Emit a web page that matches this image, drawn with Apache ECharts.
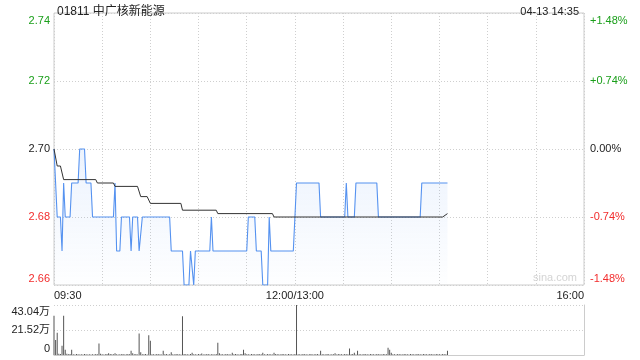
<!DOCTYPE html>
<html>
<head>
<meta charset="utf-8">
<script src="https://cdn.jsdelivr.net/npm/echarts@6/dist/echarts.min.js"></script>
<style>html,body{margin:0;padding:0;background:#fff}#c{width:640px;height:360px}</style>
</head>
<body>
<div id="c"></div>
<script>
// ---- data ----
const titleText = '01811 中广核新能源';
const timeText = '04-13 14:35';
const prevClose = 2.70;
const xTickMinutes = [0, 150, 330];
const xTickLabels = ['09:30', '12:00/13:00', '16:00'];
const leftLabels = ['2.66', '2.68', '2.70', '2.72', '2.74'];
const rightLabels = ['-1.48%', '-0.74%', '0.00%', '+0.74%', '+1.48%'];
const volLabels = ['0', '21.52万', '43.04万'];

const priceT = [0,2,4,5,6,7,10,11,15,16,19,20,23,24,37,38,39,41,42,47,48,49,52,53,54,55,72,73,80,81,84,85,86,87,88,97,98,99,120,121,125,126,129,130,133,134,135,149,151,165,166,181,182,183,187,188,201,202,228,229,245];
const priceV = [2.70,2.68,2.68,2.67,2.69,2.68,2.68,2.69,2.69,2.70,2.70,2.69,2.69,2.68,2.68,2.69,2.67,2.67,2.68,2.68,2.67,2.68,2.68,2.67,2.67,2.68,2.68,2.67,2.67,2.66,2.66,2.67,2.67,2.66,2.67,2.67,2.68,2.67,2.67,2.68,2.68,2.67,2.67,2.66,2.66,2.68,2.67,2.67,2.69,2.69,2.68,2.68,2.69,2.68,2.68,2.69,2.69,2.68,2.68,2.69,2.69];

const avgT = [0,2,4,6,26,27,37,38,52,54,58,60,79,80,101,102,136,137,242,245];
const avgV = [2.700,2.695,2.695,2.691,2.691,2.690,2.690,2.689,2.689,2.686,2.686,2.684,2.684,2.682,2.682,2.681,2.681,2.680,2.680,2.681];

// volume per minute (万), minute 0 .. 245
const volume = [
33.8,12.9,19.2,1.0,0.8,8.0,33.8,4.6,1.0,0.6,
0.8,4.6,0.7,0.5,0.9,0.6,0.4,0.7,0.5,0.8,
0.6,0.5,0.7,0.4,0.6,0.5,0.8,0.6,10.0,1.0,
0.7,0.5,0.6,0.9,1.5,0.8,0.6,0.7,1.5,0.6,
0.5,0.7,0.6,0.8,0.5,0.6,0.9,0.7,3.7,1.5,
0.6,0.8,0.5,18.4,2.3,0.7,0.6,0.8,0.5,16.9,
12.3,0.7,0.6,0.5,0.8,0.6,0.7,0.5,3.7,0.6,
0.8,0.5,0.7,2.3,0.6,0.5,0.8,0.6,0.7,0.5,
33.3,0.8,0.6,0.7,0.5,0.9,2.0,0.6,0.7,0.5,
0.8,0.6,1.2,0.5,0.7,0.6,0.8,0.5,0.7,0.6,
0.5,0.8,10.6,1.5,0.6,0.7,0.5,0.8,0.6,0.7,
0.5,2.0,0.6,0.8,0.7,0.5,0.6,0.8,4.6,1.5,
0.6,0.7,0.5,0.8,0.6,0.7,0.5,0.8,0.6,0.7,
2.0,0.6,0.5,0.8,0.7,0.6,0.5,2.0,0.8,0.6,
0.7,0.5,0.8,0.6,0.7,0.5,0.9,0.6,0.7,0.5,
0.8,43.04,0.6,0.7,0.5,0.8,0.6,0.7,0.5,0.6,
0.8,0.5,0.7,0.6,0.8,0.5,3.7,0.6,0.7,0.5,
0.8,0.6,0.5,0.7,0.6,1.5,0.5,0.8,0.6,0.7,
0.5,0.8,0.6,0.7,5.5,0.6,0.8,2.0,0.5,3.7,
0.6,0.7,0.5,0.8,0.6,0.7,0.5,0.8,0.6,0.7,
0.5,0.8,0.6,0.7,0.5,0.8,0.6,0.7,6.3,4.6,
2.0,0.6,0.7,0.5,0.8,0.6,0.7,0.5,0.8,0.6,
0.7,0.5,0.8,0.6,0.7,0.5,0.8,0.6,0.7,0.5,
0.8,0.6,0.7,0.5,0.8,0.6,0.7,0.5,0.8,0.6,
0.7,0.5,0.8,0.6,0.7,3.7
];

// ---- chart ----
const GREEN = '#1a9f1a', RED = '#f22c2c', BLACK = '#222';
const FONT = '"Liberation Sans", Arial, "Noto Sans CJK SC", sans-serif';
const chart = echarts.init(document.getElementById('c'), null, {renderer: 'canvas'});

function richSet() {
  return {
    g: {color: GREEN}, gT: {color: GREEN, padding: [16, 0, 0, 0]},
    k: {color: BLACK}, kT: {color: BLACK, padding: [16, 0, 0, 0]}, kB: {color: BLACK, padding: [0, 0, 12, 0]},
    r: {color: RED}, rB: {color: RED, padding: [0, 0, 12, 0]}
  };
}
function styleKey(idx, n, mid) {
  let c = idx > mid ? 'g' : (idx < mid ? 'r' : 'k');
  if (idx === n - 1) c += 'T';
  if (idx === 0) c += 'B';
  return c;
}

const priceData = priceT.map((t, i) => [t, priceV[i]]);
const avgData = avgT.map((t, i) => [t, avgV[i]]);
const volData = volume.map((v, i) => [i, v]);

const gridLine = {show: true, lineStyle: {color: '#cfcfcf', type: [1, 2], width: 1}};
const solidLine = {show: true, lineStyle: {color: '#cccccc', width: 1}};

chart.setOption({
  animation: false,
  textStyle: {fontFamily: FONT},
  title: [
    {text: titleText, left: 52, top: 1, textStyle: {fontSize: 12, fontWeight: 'normal', color: '#222', fontFamily: FONT}},
    {text: timeText, right: 56, top: 1, textStyle: {fontSize: 11, fontWeight: 'normal', color: '#222', fontFamily: FONT}}
  ],
  grid: [
    {left: 54, right: 56, top: 13, height: 272, show: true, borderColor: '#cccccc', borderWidth: 1, containLabel: false},
    {left: 54, right: 56, top: 305, height: 50, show: false, containLabel: false}
  ],
  xAxis: [
    {type: 'value', gridIndex: 0, min: 0, max: 330, interval: 30,
     axisLine: {show: false}, axisTick: {show: false}, splitLine: gridLine,
     axisLabel: {show: true, margin: 5, fontSize: 11, color: '#222', fontFamily: FONT,
       showMinLabel: true, showMaxLabel: true, alignMinLabel: 'left', alignMaxLabel: 'right',
       formatter: v => { const i = xTickMinutes.indexOf(Math.round(v)); return i >= 0 ? xTickLabels[i] : ''; }}},
    {type: 'value', gridIndex: 1, min: 0, max: 330, interval: 30,
     axisLine: solidLine, axisTick: {show: false}, splitLine: {show: false}, axisLabel: {show: false}}
  ],
  yAxis: [
    {type: 'value', gridIndex: 0, min: 2.66, max: 2.74, interval: 0.02, position: 'left',
     axisLine: {show: false}, axisTick: {show: false}, splitLine: gridLine,
     axisLabel: {margin: 4, fontSize: 11, fontFamily: FONT, rich: richSet(),
       formatter: (v, idx) => '{' + styleKey(idx, leftLabels.length, 2) + '|' + leftLabels[idx] + '}'}},
    {type: 'value', gridIndex: 0, min: -1.48, max: 1.48, interval: 0.74, position: 'right',
     axisLine: {show: false}, axisTick: {show: false}, splitLine: {show: false},
     axisLabel: {margin: 6, fontSize: 11, fontFamily: FONT, rich: richSet(),
       formatter: (v, idx) => '{' + styleKey(idx, rightLabels.length, 2) + '|' + rightLabels[idx] + '}'}},
    {type: 'value', gridIndex: 1, min: 0, max: 43.04, interval: 21.52, position: 'left',
     axisLine: {show: false}, axisTick: {show: false}, splitLine: gridLine,
     axisLabel: {margin: 4, fontSize: 11, fontFamily: FONT,
       rich: {k: {color: BLACK}, kT: {color: BLACK, padding: [14, 0, 0, 0]}, kB: {color: BLACK, padding: [0, 0, 12, 0]}},
       formatter: (v, idx) => '{' + (idx === 2 ? 'kT' : (idx === 0 ? 'kB' : 'k')) + '|' + volLabels[idx] + '}'}},
    {type: 'value', gridIndex: 1, min: 0, max: 43.04, position: 'right',
     axisLine: solidLine, axisTick: {show: false}, splitLine: {show: false}, axisLabel: {show: false}}
  ],
  graphic: [
    {type: 'text', left: 533, top: 272, silent: true,
     style: {text: 'sina.com', fill: '#d4d4d4', font: '11px ' + FONT}}
  ],
  series: [
    {name: 'price', type: 'line', xAxisIndex: 0, yAxisIndex: 0, data: priceData,
     symbol: 'none', lineStyle: {color: '#5592f0', width: 1.1},
     areaStyle: {color: new echarts.graphic.LinearGradient(0, 0, 0, 1, [
       {offset: 0, color: 'rgba(80,143,240,0.15)'},
       {offset: 1, color: 'rgba(80,143,240,0.01)'}])}},
    {name: 'avg', type: 'line', xAxisIndex: 0, yAxisIndex: 0, data: avgData,
     symbol: 'none', lineStyle: {color: '#333', width: 1}},
    {name: 'vol', type: 'bar', xAxisIndex: 1, yAxisIndex: 2, data: volData,
     barWidth: 1, itemStyle: {color: '#555'}}
  ]
});
</script>
</body>
</html>
